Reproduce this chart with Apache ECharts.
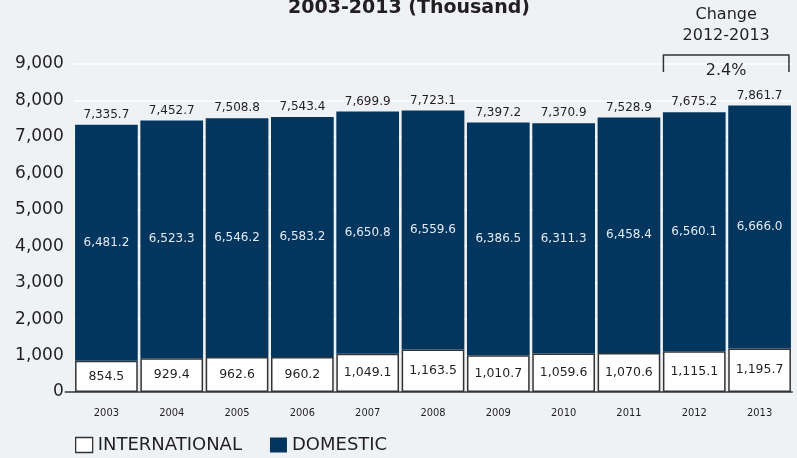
<!DOCTYPE html>
<html><head><meta charset="utf-8">
<script src="https://cdn.jsdelivr.net/npm/echarts@6/dist/echarts.min.js"></script>
<style>html,body{margin:0;padding:0;background:#eff2f5;} #c{width:797px;height:458px;}</style>
</head><body><div id="c"></div>
<script>
const years = ['2003','2004','2005','2006','2007','2008','2009','2010','2011','2012','2013'];
const international = [854.5, 929.4, 962.6, 960.2, 1049.1, 1163.5, 1010.7, 1059.6, 1070.6, 1115.1, 1195.7];
const domestic = [6481.2, 6523.3, 6546.2, 6583.2, 6650.8, 6559.6, 6386.5, 6311.3, 6458.4, 6560.1, 6666.0];
const totals = [7335.7, 7452.7, 7508.8, 7543.4, 7699.9, 7723.1, 7397.2, 7370.9, 7528.9, 7675.2, 7861.7];
const yMax = 9000;
const yInterval = 1000;
const titleText = '2003-2013 (Thousand)';
const changeLabel = 'Change\n2012-2013';
const changeValue = '2.4%';
const changeFrom = '2012';
const changeTo = '2013';

const FONT = '"DejaVu Sans", sans-serif';
const TXT = '#231f20';
const NAVY = '#03365f';
const fmt1 = v => v.toLocaleString('en-US', {minimumFractionDigits: 1, maximumFractionDigits: 1});

const chart = echarts.init(document.getElementById('c'), null, {renderer: 'canvas'});
chart.setOption({
  backgroundColor: '#eff2f5',
  animation: false,
  grid: {left: 73.75, right: 4.75, top: 64, bottom: 66, outerBoundsMode: 'none'},
  legend: {
    left: 70, top: 431, itemWidth: 17, itemHeight: 15, itemGap: 28,
    textStyle: {fontFamily: FONT, fontSize: 18, color: TXT, padding: [0, 0, 0, 0]},
    data: [
      {name: 'INTERNATIONAL', icon: 'rect', itemStyle: {color: '#fff', borderColor: '#333', borderWidth: 1.3}},
      {name: 'DOMESTIC', icon: 'rect', itemStyle: {color: NAVY, borderWidth: 0}}
    ]
  },
  xAxis: {
    type: 'category', data: years,
    axisLine: {show: true, lineStyle: {color: '#333', width: 1.5}},
    axisTick: {show: false},
    axisLabel: {margin: 16, fontFamily: '"DejaVu Sans Condensed", "DejaVu Sans", sans-serif', fontSize: 11, color: TXT}
  },
  yAxis: {
    type: 'value', min: 0, max: yMax, interval: yInterval,
    axisLine: {show: false}, axisTick: {show: false},
    axisLabel: {margin: 10, fontFamily: FONT, fontSize: 17, color: TXT, formatter: v => v.toLocaleString('en-US')},
    splitLine: {show: true, lineStyle: {color: '#ffffff', width: 1.5}}
  },
  series: [
    {
      name: 'INTERNATIONAL', type: 'bar', stack: 'all', data: international,
      barCategoryGap: '4%',
      itemStyle: {color: '#ffffff', borderColor: '#333', borderWidth: 1.5},
      label: {show: true, position: 'inside', fontFamily: FONT, fontSize: 12.5, color: TXT, formatter: p => fmt1(p.value)}
    },
    {
      name: 'DOMESTIC', type: 'bar', stack: 'all', data: domestic,
      itemStyle: {color: NAVY},
      label: {show: true, position: 'inside', fontFamily: FONT, fontSize: 12, color: '#e4eaf1', formatter: p => fmt1(p.value)}
    },
    {
      name: 'TOTAL', type: 'bar', stack: 'all', data: years.map(() => 0),
      itemStyle: {color: 'transparent'},
      label: {show: true, position: 'top', distance: 4, fontFamily: FONT, fontSize: 12, color: TXT,
        formatter: p => fmt1(totals[p.dataIndex])}
    }
  ]
});

// annotation & axis extension, positioned via the chart's own scales
const c0 = chart.convertToPixel({xAxisIndex: 0}, changeFrom);
const c1 = chart.convertToPixel({xAxisIndex: 0}, changeTo);
const band = c1 - c0;
const half = band * 0.96 / 2;
const xl = c0 - half + 0.5;
const xr = c1 + half - 2;
const yTop = chart.convertToPixel({yAxisIndex: 0}, 9250);
const yBot = chart.convertToPixel({yAxisIndex: 0}, 8780);
const y0 = chart.convertToPixel({yAxisIndex: 0}, 0);
const gridLeft = chart.convertToPixel({xAxisIndex: 0}, years[0]) - band / 2;
const cx = (xl + xr) / 2;
chart.setOption({
  graphic: [
    {type: 'text', x: 288, y: 8.5,
     style: {text: titleText, fontFamily: FONT, fontWeight: 'bold', fontSize: 19, fill: TXT, align: 'left', verticalAlign: 'middle'}},
    {type: 'polyline', shape: {points: [[xl, yBot], [xl, yTop], [xr, yTop], [xr, yBot]]},
     style: {stroke: '#333', lineWidth: 1.5, fill: null}},
    {type: 'text', x: cx, y: yBot - 1,
     style: {text: changeValue, fontFamily: FONT, fontSize: 16, fill: TXT, align: 'center', verticalAlign: 'middle'}},
    {type: 'text', x: cx, y: 4,
     style: {text: changeLabel, fontFamily: FONT, fontSize: 16, lineHeight: 21, fill: TXT, align: 'center', verticalAlign: 'top'}},
    {type: 'line', shape: {x1: gridLeft - 9, y1: y0, x2: gridLeft, y2: y0},
     style: {stroke: '#333', lineWidth: 1.5}}
  ]
});
</script>
</body></html>
